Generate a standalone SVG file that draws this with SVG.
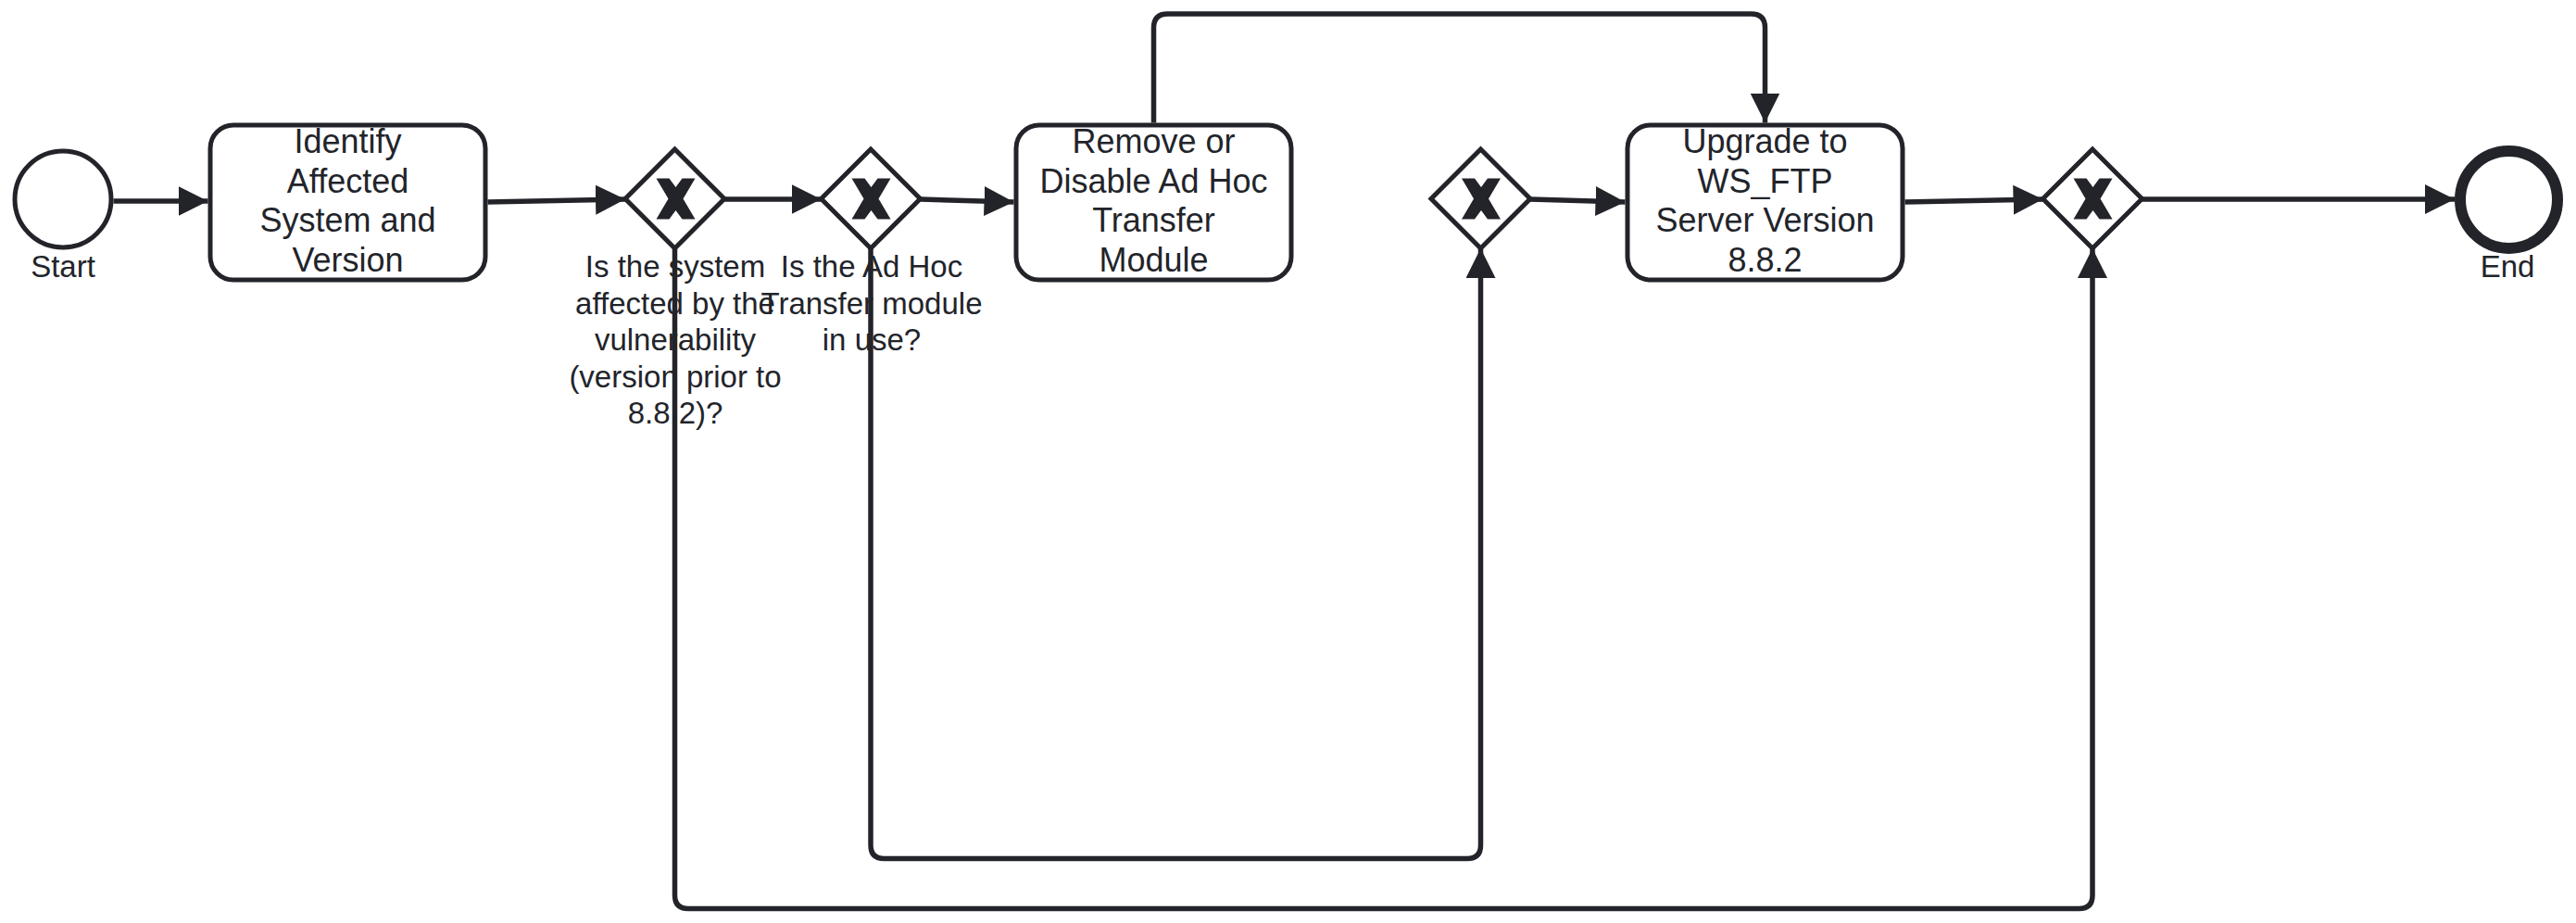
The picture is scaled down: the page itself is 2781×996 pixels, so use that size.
<svg xmlns="http://www.w3.org/2000/svg" width="2781" height="996" viewBox="0 0 2781 996">
  <style>
    .shape { fill: #ffffff; stroke: #22242a; stroke-width: 5; }
    .end { fill: #ffffff; stroke: #22242a; stroke-width: 12; }
    .xmark { fill: #22242a; stroke: none; }
    .task-text { font-family: "Liberation Sans", Arial, sans-serif; font-size: 36px; fill: #22242a; text-anchor: middle; }
    .label { font-family: "Liberation Sans", Arial, sans-serif; font-size: 33px; fill: #22242a; text-anchor: middle; }
    .flow { fill: none; stroke: #22242a; stroke-width: 5.5; stroke-linejoin: round; marker-end: url(#arrow); }
  </style>
  <defs>
    <marker id="arrow" markerUnits="userSpaceOnUse" markerWidth="32" markerHeight="32" refX="32" refY="16" orient="auto" viewBox="0 0 32 32">
      <path d="M0,0 L32,16 L0,32 Z" fill="#22242a"/>
    </marker>
    <polygon id="x" points="-21,-22 -7,-22 0,-12.5 7,-22 21,-22 8,0 21,22 7,22 0,12.5 -7,22 -21,22 -8,0"/>
  </defs>

  <rect width="2781" height="996" fill="#ffffff"/>

  <g id="start">
    <circle class="shape" cx="68" cy="215" r="52"/>
    <text class="label" x="68" y="299">Start</text>
  </g>

  <g id="task-identify">
    <rect class="shape" x="227" y="135" width="297" height="167" rx="25" ry="25"/>
    <text class="task-text" x="375.5" y="165">Identify</text>
    <text class="task-text" x="375.5" y="207.5">Affected</text>
    <text class="task-text" x="375.5" y="250">System and</text>
    <text class="task-text" x="375.5" y="292.5">Version</text>
  </g>

  <g id="gateway-affected">
    <polygon class="shape" points="728.5,161 782,214.5 728.5,268 675,214.5"/>
    <use href="#x" class="xmark" x="729.5" y="214.5"/>
    <text class="label" x="729" y="299">Is the system</text>
    <text class="label" x="729" y="338.5">affected by the</text>
    <text class="label" x="729" y="378">vulnerability</text>
    <text class="label" x="729" y="417.5">(version prior to</text>
    <text class="label" x="729" y="457">8.8.2)?</text>
  </g>

  <g id="gateway-adhoc">
    <polygon class="shape" points="940,161 993.5,214.5 940,268 886.5,214.5"/>
    <use href="#x" class="xmark" x="940.5" y="214.5"/>
    <text class="label" x="941" y="299">Is the Ad Hoc</text>
    <text class="label" x="941" y="338.5">Transfer module</text>
    <text class="label" x="941" y="378">in use?</text>
  </g>

  <g id="task-remove">
    <rect class="shape" x="1097" y="135" width="297" height="167" rx="25" ry="25"/>
    <text class="task-text" x="1245.5" y="165">Remove or</text>
    <text class="task-text" x="1245.5" y="207.5">Disable Ad Hoc</text>
    <text class="task-text" x="1245.5" y="250">Transfer</text>
    <text class="task-text" x="1245.5" y="292.5">Module</text>
  </g>

  <g id="gateway-merge1">
    <polygon class="shape" points="1598.5,161 1652,214.5 1598.5,268 1545,214.5"/>
    <use href="#x" class="xmark" x="1599" y="214.5"/>
  </g>

  <g id="task-upgrade">
    <rect class="shape" x="1757" y="135" width="297" height="167" rx="25" ry="25"/>
    <text class="task-text" x="1905.5" y="165">Upgrade to</text>
    <text class="task-text" x="1905.5" y="207.5">WS_FTP</text>
    <text class="task-text" x="1905.5" y="250">Server Version</text>
    <text class="task-text" x="1905.5" y="292.5">8.8.2</text>
  </g>

  <g id="gateway-merge2">
    <polygon class="shape" points="2259,161 2312.5,214.5 2259,268 2205.5,214.5"/>
    <use href="#x" class="xmark" x="2259.5" y="214.5"/>
  </g>

  <g id="end">
    <circle class="end" cx="2708.5" cy="215.5" r="52.5"/>
    <text class="label" x="2707" y="299">End</text>
  </g>

  <g id="connectors">
    <path class="flow" d="M122.5,217 L224.5,217"/>
    <path class="flow" d="M526.5,218 L675,215"/>
    <path class="flow" d="M782,215 L886.5,215"/>
    <path class="flow" d="M993.5,215 L1094.5,218"/>
    <path class="flow" d="M1245.5,132.5 L1245.5,30 Q1245.5,15 1260.5,15 L1890.5,15 Q1905.5,15 1905.5,30 L1905.5,132.5"/>
    <path class="flow" d="M1652,215 L1754.5,218"/>
    <path class="flow" d="M2056.5,218 L2205.5,215"/>
    <path class="flow" d="M2312.5,215 L2650,215"/>
    <path class="flow" d="M728.5,268 L728.5,966 Q728.5,980.5 743,980.5 L2244.5,980.5 Q2259,980.5 2259,966 L2259,268"/>
    <path class="flow" d="M940,268 L940,912 Q940,926.5 954.5,926.5 L1584,926.5 Q1598.5,926.5 1598.5,912 L1598.5,268"/>
  </g>
</svg>
